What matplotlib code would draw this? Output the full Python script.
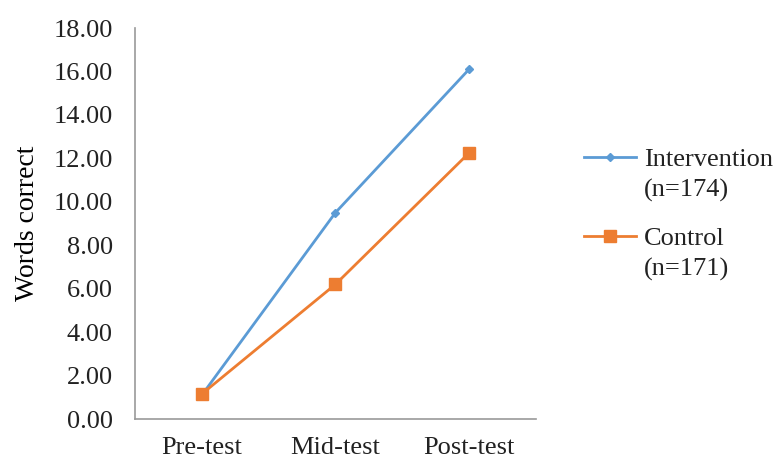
import matplotlib.pyplot as plt

plt.rcParams['font.family'] = ['Liberation Serif', 'DejaVu Serif']

tests = ['Pre-test', 'Mid-test', 'Post-test']
intervention = [1.1, 9.5, 16.1]
control = [1.15, 6.2, 12.25]
groups = ['Intervention', 'Control']
group_n = ['(n=174)', '(n=171)']

fig = plt.figure(figsize=(7.83, 4.63), dpi=100)
ax = fig.add_axes([0.1724, 0.095, 0.512, 0.8445])

x = range(len(tests))
ax.plot(x, intervention, color='#5B9BD5', marker='D', markersize=4.5, linewidth=2,
        label=groups[0])
ax.plot(x, control, color='#ED7D31', marker='s', markersize=8, linewidth=2,
        label=groups[1])

ax.set_xlim(-0.5, 2.5)
ax.set_ylim(0, 18)
ax.set_yticks(range(0, 19, 2))
ax.set_yticklabels([f'{v:.2f}' for v in range(0, 19, 2)])
ax.set_xticks(list(x))
ax.set_xticklabels(tests)
ax.tick_params(axis='both', length=0, labelsize=19, colors='#222222')
ax.tick_params(axis='y', pad=16)
ax.tick_params(axis='x', pad=13)
ax.set_ylabel('Words correct', fontsize=20, labelpad=10)

for s in ['top', 'right']:
    ax.spines[s].set_visible(False)
for s in ['left', 'bottom']:
    ax.spines[s].set_color('#999999')
    ax.spines[s].set_linewidth(1.2)

leg = ax.legend(loc='upper left', bbox_to_anchor=(1.062, 0.755), frameon=False,
                fontsize=19, handlelength=1.95, labelspacing=2.1, handletextpad=0.3,
                labelcolor='#222222')
# second line of each legend entry, hung under the label (drawn after the legend)
for t, n in zip(leg.get_texts(), group_n):
    ax.annotate(n, xy=(0, 0), xycoords=t, xytext=(0, -6), textcoords='offset points',
                ha='left', va='top', fontsize=19, color='#222222', zorder=10)

fig.savefig('out.png', dpi=100)
